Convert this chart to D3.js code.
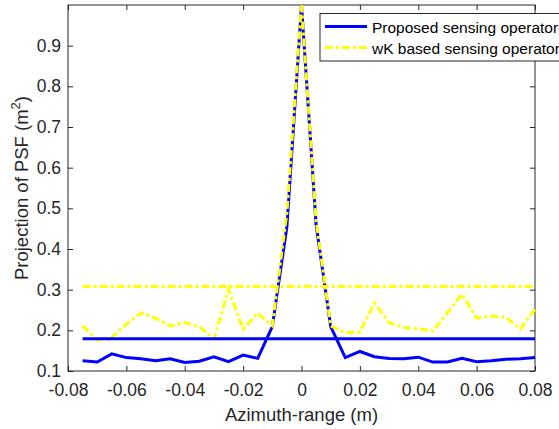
<!DOCTYPE html>
<html>
<head>
<meta charset="utf-8">
<script src="https://cdn.jsdelivr.net/npm/d3@7"></script>
<style>
  body { margin: 0; background: #fff; }
  svg { display: block; font-family: "Liberation Sans", Arial, sans-serif; }
</style>
</head>
<body>
<div id="chart"></div>
<script>
// azimuth-range positions (m)
var azimuth = [-0.075, -0.07, -0.065, -0.06, -0.055, -0.05, -0.045, -0.04, -0.035, -0.03,
  -0.025, -0.02, -0.015, -0.01, -0.005, 0, 0.005, 0.01, 0.015, 0.02, 0.025, 0.03,
  0.035, 0.04, 0.045, 0.05, 0.055, 0.06, 0.065, 0.07, 0.075, 0.08];
var proposed = [0.125, 0.122, 0.142, 0.133, 0.130, 0.125, 0.130, 0.121, 0.124, 0.135,
  0.123, 0.139, 0.131, 0.209, 0.455, 1.0, 0.46, 0.209, 0.133, 0.148, 0.135, 0.131,
  0.130, 0.134, 0.122, 0.122, 0.131, 0.123, 0.125, 0.129, 0.130, 0.133];
var wkBased = [0.211, 0.176, 0.183, 0.215, 0.243, 0.230, 0.211, 0.219, 0.209, 0.178,
  0.301, 0.203, 0.242, 0.211, 0.49, 1.0, 0.47, 0.211, 0.194, 0.196, 0.267, 0.219,
  0.207, 0.204, 0.198, 0.243, 0.289, 0.230, 0.235, 0.232, 0.203, 0.252];
var proposedLevel = 0.179;
var wkLevel = 0.308;
var xTicks = [-0.08, -0.06, -0.04, -0.02, 0, 0.02, 0.04, 0.06, 0.08];
var yTicks = [0.1, 0.2, 0.3, 0.4, 0.5, 0.6, 0.7, 0.8, 0.9];
var legendNames = ['Proposed sensing operator', 'wK based sensing operator'];

var W = 559, H = 429,
    pLeft = 68, pRight = 535, pTop = 5, pBottom = 371,
    axisColor = '#262626';

var svg = d3.select('#chart').append('svg')
  .attr('width', W)
  .attr('height', H);

var x = d3.scaleLinear().domain([-0.08, 0.08]).range([pLeft, pRight]);
var y = d3.scaleLinear().domain([0.1, 1.0]).range([pBottom, pTop]);

// tick formatting like matlab (0 instead of 0.00)
function fmt(d) { return d === 0 ? '0' : String(d); }

// box + ticks
svg.append('rect')
  .attr('x', pLeft).attr('y', pTop)
  .attr('width', pRight - pLeft).attr('height', pBottom - pTop)
  .attr('fill', 'none').attr('stroke', axisColor).attr('stroke-width', 1);

var xAxis = svg.append('g')
  .attr('transform', 'translate(0,' + pBottom + ')')
  .call(d3.axisBottom(x).tickValues(xTicks).tickFormat(fmt).tickSizeInner(-5).tickSizeOuter(0).tickPadding(13));
var xTop = svg.append('g')
  .attr('transform', 'translate(0,' + pTop + ')')
  .call(d3.axisTop(x).tickValues(xTicks).tickFormat('').tickSizeInner(-5).tickSizeOuter(0));
var yAxis = svg.append('g')
  .attr('transform', 'translate(' + pLeft + ',0)')
  .call(d3.axisLeft(y).tickValues(yTicks).tickFormat(fmt).tickSizeInner(-5).tickSizeOuter(0).tickPadding(7));
var yRight = svg.append('g')
  .attr('transform', 'translate(' + pRight + ',0)')
  .call(d3.axisRight(y).tickValues(yTicks).tickFormat('').tickSizeInner(-5).tickSizeOuter(0));

[xAxis, xTop, yAxis, yRight].forEach(function(g) {
  g.select('.domain').remove();
  g.selectAll('line').attr('stroke', axisColor);
  g.selectAll('text')
    .attr('fill', axisColor)
    .style('font-size', '17.5px')
    .style('font-family', '"Liberation Sans", Arial, sans-serif');
});

// axis labels
svg.append('text')
  .attr('x', (pLeft + pRight) / 2)
  .attr('y', 421)
  .attr('text-anchor', 'middle')
  .attr('fill', axisColor)
  .style('font-size', '18.5px')
  .text('Azimuth-range (m)');

var yl = svg.append('text')
  .attr('transform', 'translate(28,' + ((pTop + pBottom) / 2) + ') rotate(-90)')
  .attr('text-anchor', 'middle')
  .attr('fill', axisColor)
  .style('font-size', '18.5px');
yl.append('tspan').text('Projection of PSF (m');
yl.append('tspan').attr('dy', -8).style('font-size', '13px').text('2');
yl.append('tspan').attr('dy', 8).text(')');

var line = d3.line()
  .x(function(d) { return x(d[0]); })
  .y(function(d) { return y(d[1]); });

var blue = '#0000ff', yellow = '#ffff00', dashDot = '8,3,3,3';

svg.append('path')
  .datum(azimuth.map(function(a, i) { return [a, proposed[i]]; }))
  .attr('d', line)
  .attr('fill', 'none').attr('stroke', blue).attr('stroke-width', 3);

svg.append('path')
  .datum(azimuth.map(function(a, i) { return [a, wkBased[i]]; }))
  .attr('d', line)
  .attr('fill', 'none').attr('stroke', yellow).attr('stroke-width', 3)
  .attr('stroke-dasharray', dashDot);

var xFirst = azimuth[0], xLast = azimuth[azimuth.length - 1];

svg.append('path')
  .datum([[xFirst, proposedLevel], [xLast, proposedLevel]])
  .attr('d', line)
  .attr('fill', 'none').attr('stroke', blue).attr('stroke-width', 3);

svg.append('path')
  .datum([[xFirst, wkLevel], [xLast, wkLevel]])
  .attr('d', line)
  .attr('fill', 'none').attr('stroke', yellow).attr('stroke-width', 3)
  .attr('stroke-dasharray', dashDot);

// legend
var legend = svg.append('g');
legend.append('rect')
  .attr('x', 320).attr('y', 13.5)
  .attr('width', 260).attr('height', 47.5)
  .attr('fill', '#fff').attr('stroke', axisColor).attr('stroke-width', 1);

var rowsY = [26.5, 47.5];
legendNames.forEach(function(name, i) {
  legend.append('line')
    .attr('x1', 325).attr('x2', 367)
    .attr('y1', rowsY[i]).attr('y2', rowsY[i])
    .attr('stroke', i === 0 ? blue : yellow)
    .attr('stroke-width', 3)
    .attr('stroke-dasharray', i === 0 ? null : dashDot);
  legend.append('text')
    .attr('x', 372).attr('y', rowsY[i] + 6)
    .attr('fill', '#000')
    .style('font-size', '15.5px')
    .text(name);
});
</script>
</body>
</html>
